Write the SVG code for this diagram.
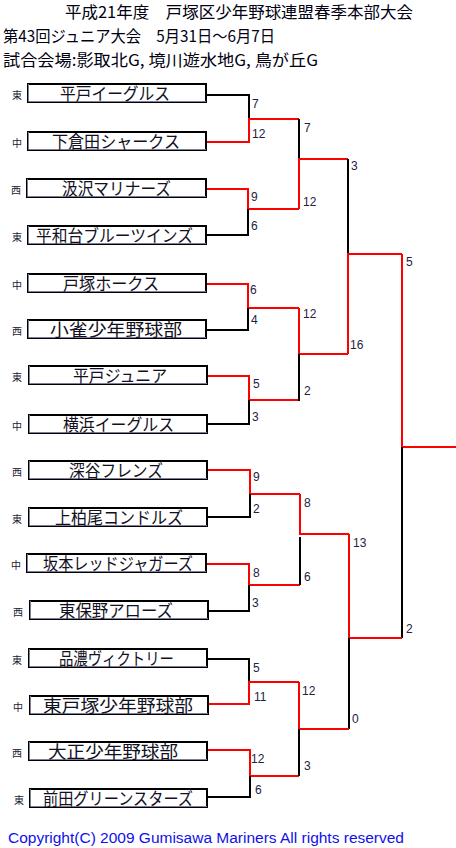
<svg xmlns="http://www.w3.org/2000/svg" width="456" height="848" viewBox="0 0 456 848">
<style>
text{font-family:"Noto Sans CJK JP","Liberation Sans",sans-serif}
.hd{font-size:16px;fill:#000011}
.box{fill:#fff;stroke:#000;stroke-width:2}
.shade{stroke:#7d7d9d;stroke-width:1;fill:none}
.nm{font-size:17px;fill:#111122}
.rg{font-size:10px;fill:#222233;text-anchor:middle}
.sc{font-family:"Liberation Sans",Arial,sans-serif;font-size:12px;fill:#222244}
.b{stroke:#000;stroke-width:2;fill:none}
.r{stroke:#ff0000;stroke-width:2;fill:none}
.cp{font-family:"Liberation Sans",Arial,sans-serif;font-size:14px;fill:#1010e8}
</style>
<rect width="456" height="848" fill="#fff"/>
<g id="header">
<text class="hd" x="65" y="17.5" textLength="348" lengthAdjust="spacingAndGlyphs">平成21年度　戸塚区少年野球連盟春季本部大会</text>
<text class="hd" x="3" y="41.5" textLength="272" lengthAdjust="spacingAndGlyphs">第43回ジュニア大会　5月31日～6月7日</text>
<text class="hd" x="3" y="65.5" textLength="315" lengthAdjust="spacingAndGlyphs">試合会場:影取北G, 境川遊水地G, 鳥が丘G</text>
</g>
<g id="connectors">
<path class="b" d="M207,95 H249 V119"/><path class="r" d="M207,142 H249 V119 H299"/>
<path class="r" d="M207,189 H248 V209 H299"/><path class="b" d="M207,235 H248 V209"/>
<path class="b" d="M299,119 V159"/><path class="r" d="M299,209 V159 H348"/>
<path class="r" d="M207,284 H248 V308 H299"/><path class="b" d="M207,330 H248 V308"/>
<path class="r" d="M208,376 H249 V400 H299"/><path class="b" d="M208,424 H249 V400"/>
<path class="r" d="M299,308 V354 H348"/><path class="b" d="M299,401 V354"/>
<path class="b" d="M348,159 V254"/><path class="r" d="M348,354 V254 H402"/>
<path class="r" d="M402,254 V447 H456"/><path class="b" d="M402,638 V447"/>
<path class="r" d="M208,470 H250 V494 H300"/><path class="b" d="M208,517 H250 V494"/>
<path class="r" d="M207,564 H249 V585 H300"/><path class="b" d="M209,611 H249 V585"/>
<path class="r" d="M300,494 V534 H349"/><path class="b" d="M300,585 V537"/>
<path class="r" d="M349,534 V638 H402"/><path class="b" d="M349,729 V638"/>
<path class="b" d="M208,659 H249 V682"/><path class="r" d="M209,704 H249 V682 H299"/>
<path class="r" d="M208,750 H250 V776 H299"/><path class="b" d="M208,797 H250 V776"/>
<path class="r" d="M299,682 V729 H349"/><path class="b" d="M299,776 V729"/>
</g>
<g id="scores">
<text class="sc" x="252" y="108">7</text><text class="sc" x="252" y="138">12</text>
<text class="sc" x="251" y="201">9</text><text class="sc" x="251" y="230">6</text>
<text class="sc" x="304" y="132">7</text><text class="sc" x="303" y="206">12</text>
<text class="sc" x="250" y="294">6</text><text class="sc" x="251" y="324">4</text>
<text class="sc" x="253" y="388">5</text><text class="sc" x="252" y="421">3</text>
<text class="sc" x="303" y="318">12</text><text class="sc" x="304" y="395">2</text>
<text class="sc" x="351" y="170">3</text><text class="sc" x="350" y="349">16</text>
<text class="sc" x="406" y="266">5</text><text class="sc" x="406" y="633">2</text>
<text class="sc" x="253" y="481">9</text><text class="sc" x="253" y="513">2</text>
<text class="sc" x="253" y="577">8</text><text class="sc" x="252" y="607">3</text>
<text class="sc" x="304" y="507">8</text><text class="sc" x="304" y="581">6</text>
<text class="sc" x="353" y="547">13</text><text class="sc" x="352" y="723">0</text>
<text class="sc" x="253" y="672">5</text><text class="sc" x="254" y="701">11</text>
<text class="sc" x="251" y="763">12</text><text class="sc" x="255" y="794">6</text>
<text class="sc" x="302" y="695">12</text><text class="sc" x="304" y="770">3</text>
</g>
<g id="team1"><text class="rg" x="17" y="98.5">東</text><rect class="box" x="28" y="84" width="178" height="18"/><path class="shade" d="M28.5,84 V101.5 H206"/><text class="nm" x="60" y="100" textLength="110" lengthAdjust="spacingAndGlyphs">平戸イーグルス</text></g>
<g id="team2"><text class="rg" x="17" y="146.5">中</text><rect class="box" x="28" y="132" width="178" height="18"/><path class="shade" d="M28.5,132 V149.5 H206"/><text class="nm" x="52" y="148" textLength="128" lengthAdjust="spacingAndGlyphs">下倉田シャークス</text></g>
<g id="team3"><text class="rg" x="16" y="193.5">西</text><rect class="box" x="27" y="179" width="179" height="18"/><path class="shade" d="M27.5,179 V196.5 H206"/><text class="nm" x="62" y="195" textLength="109" lengthAdjust="spacingAndGlyphs">汲沢マリナーズ</text></g>
<g id="team4"><text class="rg" x="17" y="240.5">東</text><rect class="box" x="28" y="226" width="178" height="18"/><path class="shade" d="M28.5,226 V243.5 H206"/><text class="nm" x="36" y="242" textLength="157" lengthAdjust="spacingAndGlyphs">平和台ブルーツインズ</text></g>
<g id="team5"><text class="rg" x="17" y="288.5">中</text><rect class="box" x="28" y="274" width="178" height="18"/><path class="shade" d="M28.5,274 V291.5 H206"/><text class="nm" x="63" y="290" textLength="96" lengthAdjust="spacingAndGlyphs">戸塚ホークス</text></g>
<g id="team6"><text class="rg" x="17" y="334.5">西</text><rect class="box" x="28" y="320" width="178" height="18"/><path class="shade" d="M28.5,320 V337.5 H206"/><text class="nm" x="50" y="336" textLength="132" lengthAdjust="spacingAndGlyphs">小雀少年野球部</text></g>
<g id="team7"><text class="rg" x="17" y="380.5">東</text><rect class="box" x="29" y="366" width="178" height="18"/><path class="shade" d="M29.5,366 V383.5 H207"/><text class="nm" x="73" y="382" textLength="94" lengthAdjust="spacingAndGlyphs">平戸ジュニア</text></g>
<g id="team8"><text class="rg" x="17" y="429.5">中</text><rect class="box" x="29" y="415" width="178" height="18"/><path class="shade" d="M29.5,415 V432.5 H207"/><text class="nm" x="63" y="431" textLength="111" lengthAdjust="spacingAndGlyphs">横浜イーグルス</text></g>
<g id="team9"><text class="rg" x="17" y="475.5">西</text><rect class="box" x="29" y="461" width="178" height="18"/><path class="shade" d="M29.5,461 V478.5 H207"/><text class="nm" x="69" y="477" textLength="94" lengthAdjust="spacingAndGlyphs">深谷フレンズ</text></g>
<g id="team10"><text class="rg" x="17" y="522.5">東</text><rect class="box" x="29" y="508" width="178" height="18"/><path class="shade" d="M29.5,508 V525.5 H207"/><text class="nm" x="55" y="524" textLength="128" lengthAdjust="spacingAndGlyphs">上柏尾コンドルズ</text></g>
<g id="team11"><text class="rg" x="16" y="568.5">中</text><rect class="box" x="27" y="554" width="179" height="18"/><path class="shade" d="M27.5,554 V571.5 H206"/><text class="nm" x="43" y="570" textLength="150" lengthAdjust="spacingAndGlyphs">坂本レッドジャガーズ</text></g>
<g id="team12"><text class="rg" x="18" y="615.5">西</text><rect class="box" x="30" y="601" width="178" height="18"/><path class="shade" d="M30.5,601 V618.5 H208"/><text class="nm" x="59" y="617" textLength="114" lengthAdjust="spacingAndGlyphs">東保野アローズ</text></g>
<g id="team13"><text class="rg" x="17" y="663.5">東</text><rect class="box" x="29" y="649" width="178" height="18"/><path class="shade" d="M29.5,649 V666.5 H207"/><text class="nm" x="59" y="665" textLength="115" lengthAdjust="spacingAndGlyphs">品濃ヴィクトリー</text></g>
<g id="team14"><text class="rg" x="18" y="710.5">中</text><rect class="box" x="30" y="696" width="178" height="18"/><path class="shade" d="M30.5,696 V713.5 H208"/><text class="nm" x="43" y="712" textLength="150" lengthAdjust="spacingAndGlyphs">東戸塚少年野球部</text></g>
<g id="team15"><text class="rg" x="17" y="756.5">西</text><rect class="box" x="29" y="742" width="178" height="18"/><path class="shade" d="M29.5,742 V759.5 H207"/><text class="nm" x="48" y="758" textLength="130" lengthAdjust="spacingAndGlyphs">大正少年野球部</text></g>
<g id="team16"><text class="rg" x="19" y="803.5">東</text><rect class="box" x="30" y="789" width="177" height="18"/><path class="shade" d="M30.5,789 V806.5 H207"/><text class="nm" x="43" y="805" textLength="150" lengthAdjust="spacingAndGlyphs">前田グリーンスターズ</text></g>
<text class="cp" x="8" y="843" textLength="396" lengthAdjust="spacingAndGlyphs">Copyright(C) 2009 Gumisawa Mariners All rights reserved</text>
</svg>
